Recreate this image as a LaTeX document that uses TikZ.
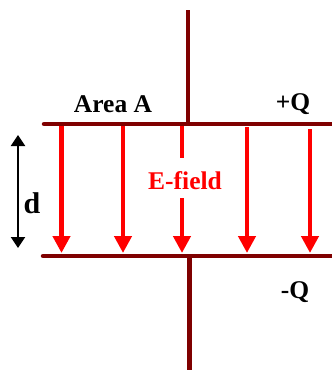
\documentclass[tikz,border=0pt]{standalone}
\usepackage{fontspec}
\setmainfont{Liberation Serif}
\usetikzlibrary{arrows.meta,positioning}
\definecolor{PlateRed}{HTML}{7F0000}
\definecolor{FieldRed}{HTML}{FF0000}
\tikzset{
  % Plates and leads
  PL/.style={draw=PlateRed,line width=4.5pt,line cap=round},
  % Field arrow
  FA/.style={-{Triangle[length=17pt,width=17pt]},draw=FieldRed,line width=4.5pt},
  % Gap arrow
  DA/.style={{Triangle[length=11pt,width=14pt]}-{Triangle[length=11pt,width=14pt]},line width=2pt},
  % Label styles
  LB/.style={font=\fontsize{25.5}{27}\selectfont\bfseries,inner sep=0pt},
  LR/.style={LB,text=FieldRed}
}
\begin{document}
\begin{tikzpicture}[x=1pt,y=-1pt]
  \useasboundingbox (0,0) rectangle (332,370);
  % plates and leads
  \coordinate (topL) at (44,124);  \coordinate (topR) at (334,124);
  \coordinate (botL) at (43,256);  \coordinate (botR) at (334,256);
  \coordinate (leadT) at (188,10);  \coordinate (leadTe) at (188,124);
  \coordinate (leadB) at (189.5,256); \coordinate (leadBe) at (189.5,372);

  % field arrows
  \foreach \n/\x/\y in {1/61.5/125,2/123/126,4/247/127,5/310/129}{
    \coordinate (s\n) at (\x,\y);
    \coordinate (e\n) at (\x,253);
    \draw[FA] (s\n) -- (e\n);
  }
  \node[LR] (efield) at (185,181) {E-field};
  \coordinate (s3) at (182,125);
  \coordinate (g3) at (182,158);
  \coordinate (m3) at (182,198);
  \coordinate (e3) at (182,253);
  \draw[FieldRed,line width=4.5pt] (s3) -- (g3);
  \draw[FA] (m3) -- (e3);

  \draw[PL] (topL) -- (topR);
  \draw[PL] (botL) -- (botR);
  \draw[PL,line cap=butt] (leadT) -- (leadTe);
  \draw[PL,line cap=butt] (leadB) -- (leadBe);

  % labels
  \node[LB] (area) at (113,104) {Area A};
  \node[LB] (plusq) at (293,104) {+Q};
  \node[LB] (minusq) at (295,292) {-Q};
  \coordinate (dT) at (18,135);
  \coordinate (dB) at (18,248);
  \draw[DA] (dT) -- (dB);
  \node[LB,font=\fontsize{30}{32}\selectfont\bfseries] (dlab) at (32,203) {d};
\end{tikzpicture}
\end{document}
